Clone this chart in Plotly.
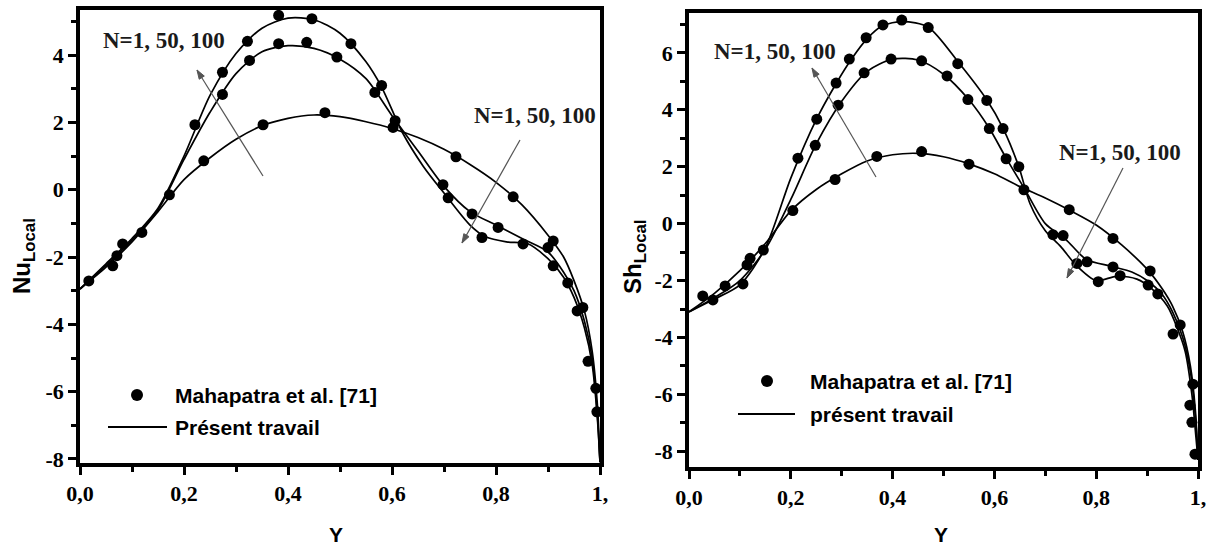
import math
import plotly.graph_objects as go

W, H = 1210, 548

# ---------------- data: left panel (Nu_Local) ----------------
nu_x_n1 = [0, 0.05, 0.1, 0.15, 0.2, 0.25, 0.3, 0.35, 0.4, 0.45, 0.5, 0.55, 0.6, 0.65, 0.7, 0.75, 0.8, 0.85, 0.9, 0.93, 0.95, 0.97, 0.985, 0.995, 1.0]
nu_y_n1 = [-2.95, -2.3, -1.55, -0.65, 0.3, 0.95, 1.5, 1.9, 2.12, 2.22, 2.17, 2.02, 1.82, 1.55, 1.2, 0.75, 0.22, -0.45, -1.35, -2.0, -2.7, -3.6, -4.8, -6.4, -8.1]

nu_x_n50 = [0, 0.05, 0.1, 0.15, 0.2, 0.25, 0.3, 0.35, 0.4, 0.45, 0.5, 0.55, 0.6, 0.65, 0.7, 0.75, 0.8, 0.85, 0.9, 0.93, 0.95, 0.97, 0.985, 0.995, 1.0]
nu_y_n50 = [-2.95, -2.25, -1.5, -0.6, 0.9, 2.3, 3.45, 4.1, 4.28, 4.2, 3.88, 3.3, 2.2, 1.15, 0.1, -0.65, -1.05, -1.45, -1.85, -2.45, -3.0, -3.9, -5.0, -6.7, -8.1]

nu_x_n100 = [0, 0.05, 0.1, 0.15, 0.2, 0.25, 0.3, 0.35, 0.4, 0.45, 0.5, 0.55, 0.58, 0.62, 0.66, 0.7, 0.75, 0.78, 0.82, 0.86, 0.9, 0.93, 0.95, 0.97, 0.985, 0.995, 1.0]
nu_y_n100 = [-2.95, -2.2, -1.45, -0.55, 1.0, 2.8, 4.05, 4.8, 5.1, 5.05, 4.65, 3.8, 3.05, 1.7, 0.7, -0.1, -1.05, -1.4, -1.55, -1.6, -2.05, -2.6, -3.2, -4.1, -5.2, -6.8, -8.1]

nu_dx_n1 = [0.017, 0.119, 0.172, 0.238, 0.352, 0.471, 0.602, 0.723, 0.833, 0.91, 0.956, 0.992]
nu_dy_n1 = [-2.71, -1.27, -0.15, 0.86, 1.93, 2.29, 1.85, 0.98, -0.21, -1.52, -3.6, -5.9]
nu_dx_n50 = [0.063, 0.071, 0.274, 0.326, 0.382, 0.436, 0.494, 0.567, 0.606, 0.698, 0.754, 0.804, 0.90, 0.938, 0.967, 0.994]
nu_dy_n50 = [-2.26, -1.96, 2.83, 3.84, 4.34, 4.38, 3.94, 2.89, 2.05, 0.15, -0.72, -1.12, -1.72, -2.77, -3.5, -6.6]
nu_dx_n100 = [0.082, 0.221, 0.274, 0.322, 0.382, 0.446, 0.521, 0.58, 0.708, 0.773, 0.852, 0.91, 0.977]
nu_dy_n100 = [-1.61, 1.93, 3.49, 4.41, 5.18, 5.08, 4.34, 3.1, -0.24, -1.42, -1.61, -2.26, -5.1]

# ---------------- data: right panel (Sh_Local) ----------------
sh_x_n1 = [0, 0.05, 0.1, 0.15, 0.2, 0.25, 0.3, 0.35, 0.4, 0.45, 0.5, 0.55, 0.6, 0.65, 0.7, 0.75, 0.8, 0.85, 0.9, 0.93, 0.95, 0.97, 0.985, 0.995, 1.0]
sh_y_n1 = [-3.1, -2.45, -1.65, -0.7, 0.45, 1.2, 1.75, 2.2, 2.42, 2.47, 2.35, 2.1, 1.75, 1.3, 0.9, 0.45, -0.05, -0.75, -1.6, -2.3, -2.9, -3.8, -5.0, -6.6, -8.3]

sh_x_n50 = [0, 0.05, 0.1, 0.15, 0.2, 0.25, 0.3, 0.35, 0.4, 0.45, 0.5, 0.55, 0.59, 0.62, 0.66, 0.7, 0.74, 0.78, 0.83, 0.87, 0.9, 0.93, 0.95, 0.97, 0.985, 0.995, 1.0]
sh_y_n50 = [-3.1, -2.6, -2.0, -0.9, 0.85, 2.8, 4.3, 5.35, 5.78, 5.75, 5.25, 4.35, 3.35, 2.4, 1.2, 0.0, -0.55, -1.25, -1.5, -1.7, -2.0, -2.5, -3.1, -4.0, -5.2, -6.8, -8.3]

sh_x_n100 = [0, 0.05, 0.1, 0.15, 0.2, 0.25, 0.29, 0.32, 0.35, 0.38, 0.42, 0.47, 0.53, 0.585, 0.617, 0.648, 0.67, 0.7, 0.73, 0.76, 0.8, 0.84, 0.88, 0.91, 0.94, 0.96, 0.975, 0.988, 0.996, 1.0]
sh_y_n100 = [-3.1, -2.65, -2.15, -0.85, 1.6, 3.65, 4.95, 5.8, 6.5, 6.95, 7.1, 6.9, 5.65, 4.35, 3.35, 2.0, 0.7, -0.25, -0.8, -1.45, -2.0, -1.85, -1.95, -2.3, -2.9, -3.7, -4.5, -6.0, -7.5, -8.3]

sh_dx_n1 = [0.027, 0.114, 0.146, 0.204, 0.287, 0.369, 0.457, 0.55, 0.658, 0.747, 0.833, 0.906, 0.965, 0.99]
sh_dy_n1 = [-2.54, -1.45, -0.93, 0.46, 1.55, 2.36, 2.53, 2.09, 1.19, 0.49, -0.52, -1.66, -3.56, -5.64]
sh_dx_n50 = [0.047, 0.071, 0.12, 0.248, 0.293, 0.344, 0.397, 0.457, 0.507, 0.548, 0.59, 0.623, 0.735, 0.782, 0.833, 0.902, 0.951, 0.984]
sh_dy_n50 = [-2.68, -2.19, -1.22, 2.75, 4.16, 5.3, 5.78, 5.72, 5.19, 4.36, 3.34, 2.28, -0.42, -1.34, -1.52, -2.16, -3.88, -6.38]
sh_dx_n100 = [0.106, 0.214, 0.251, 0.289, 0.315, 0.348, 0.381, 0.418, 0.47, 0.528, 0.585, 0.617, 0.648, 0.715, 0.762, 0.804, 0.847, 0.921, 0.988, 0.994]
sh_dy_n100 = [-2.12, 2.3, 3.67, 4.94, 5.78, 6.53, 6.98, 7.15, 6.89, 5.62, 4.33, 3.34, 2.0, -0.39, -1.4, -2.04, -1.83, -2.47, -6.98, -8.1]

# ---------------- ticks / labels (last label is cropped to "1," in the source) ----------------
x_ticks = [0, 0.2, 0.4, 0.6, 0.8, 1.0]
x_ticklabels = ["0,0", "0,2", "0,4", "0,6", "0,8", "1,"]
x_minor = [0.1, 0.3, 0.5, 0.7, 0.9]
nu_ticks = [-8, -6, -4, -2, 0, 2, 4]
nu_ticklabels = ["-8", "-6", "-4", "-2", "0", "2", "4"]
nu_minor = [-7, -5, -3, -1, 1, 3, 5]
sh_ticks = [-8, -6, -4, -2, 0, 2, 4, 6]
sh_ticklabels = ["-8", "-6", "-4", "-2", "0", "2", "4", "6"]
sh_minor = [-7, -5, -3, -1, 1, 3, 5, 7]

legend_points = "Mahapatra et al. [71]"
legend_line_left = "Présent travail"
legend_line_right = "présent travail"
n_label = "N=1, 50, 100"


def px(x):
    return x / W


def py(y):
    return 1 - y / H


fig = go.Figure()

LINE = dict(color="black", width=1.7)
MARK = dict(color="black", size=11)

for xs, ys in [(nu_x_n1, nu_y_n1), (nu_x_n50, nu_y_n50), (nu_x_n100, nu_y_n100)]:
    fig.add_trace(go.Scatter(x=xs, y=ys, mode="lines", line=dict(shape="spline", smoothing=0.8, **LINE),
                             xaxis="x", yaxis="y", showlegend=False, name=legend_line_left))
for xs, ys in [(nu_dx_n1, nu_dy_n1), (nu_dx_n50, nu_dy_n50), (nu_dx_n100, nu_dy_n100)]:
    fig.add_trace(go.Scatter(x=xs, y=ys, mode="markers", marker=MARK,
                             xaxis="x", yaxis="y", showlegend=False, name=legend_points))
for xs, ys in [(sh_x_n1, sh_y_n1), (sh_x_n50, sh_y_n50), (sh_x_n100, sh_y_n100)]:
    fig.add_trace(go.Scatter(x=xs, y=ys, mode="lines", line=dict(shape="spline", smoothing=0.8, **LINE),
                             xaxis="x2", yaxis="y2", showlegend=False, name=legend_line_right))
for xs, ys in [(sh_dx_n1, sh_dy_n1), (sh_dx_n50, sh_dy_n50), (sh_dx_n100, sh_dy_n100)]:
    fig.add_trace(go.Scatter(x=xs, y=ys, mode="markers", marker=MARK,
                             xaxis="x2", yaxis="y2", showlegend=False, name=legend_points))

TICKFONT = dict(family="Liberation Serif", size=22, color="black", weight="bold")


def xaxis_style(domain):
    return dict(domain=domain, range=[0, 1.0], tickmode="array", tickvals=x_ticks, ticktext=x_ticklabels,
                ticks="outside", ticklen=8, tickwidth=3, tickcolor="black", automargin=False,
                ticklabeloverflow="allow",
                showline=True, linewidth=3.5, linecolor="black", mirror=True,
                showgrid=False, zeroline=False, tickfont=TICKFONT,
                minor=dict(tickvals=x_minor, ticks="outside", ticklen=5, tickwidth=3, tickcolor="black"))


def yaxis_style(domain, rng, tv, tt, mv, anchor):
    return dict(domain=domain, range=rng, tickmode="array", tickvals=tv, ticktext=tt, anchor=anchor,
                ticks="outside", ticklen=8, tickwidth=3, tickcolor="black", automargin=False,
                showline=True, linewidth=3.5, linecolor="black", mirror=True,
                showgrid=False, zeroline=False, tickfont=TICKFONT,
                minor=dict(tickvals=mv, ticks="outside", ticklen=5, tickwidth=3, tickcolor="black"))


xd1 = [px(80), px(600)]
yd1 = [py(463), py(10)]
xd2 = [px(689), px(1198)]
yd2 = [py(467), py(13)]

fig.update_layout(
    width=W, height=H, margin=dict(l=0, r=0, t=0, b=0, autoexpand=False),
    paper_bgcolor="white", plot_bgcolor="white", showlegend=False,
    xaxis=dict(anchor="y", **xaxis_style(xd1)),
    yaxis=yaxis_style(yd1, [-8.12, 5.34], nu_ticks, nu_ticklabels, nu_minor, "x"),
    xaxis2=dict(anchor="y2", **xaxis_style(xd2)),
    yaxis2=yaxis_style(yd2, [-8.55, 7.4], sh_ticks, sh_ticklabels, sh_minor, "x2"),
)

TITLE = dict(family="Liberation Sans", size=24, color="black", weight="bold")
SANS = dict(family="Liberation Sans", size=21, color="black", weight="bold")
SERIF = dict(family="Liberation Serif", size=23, color="#1a1a1a", weight="bold")

ann = []
# axis titles
ann.append(dict(x=px(23), y=py(256), xref="paper", yref="paper", text="Nu<sub>Local</sub>", textangle=-90,
                showarrow=False, font=TITLE, xanchor="center", yanchor="middle"))
ann.append(dict(x=px(634), y=py(257), xref="paper", yref="paper", text="Sh<sub>Local</sub>", textangle=-90,
                showarrow=False, font=TITLE, xanchor="center", yanchor="middle"))
ann.append(dict(x=px(336), y=py(534), xref="paper", yref="paper", text="Y", showarrow=False, font=SANS,
                xanchor="center", yanchor="middle"))
ann.append(dict(x=px(941), y=py(534), xref="paper", yref="paper", text="Y", showarrow=False, font=SANS,
                xanchor="center", yanchor="middle"))
# N labels
for cx, cy in [(164, 41), (535, 116), (775, 51), (1120, 152)]:
    ann.append(dict(x=px(cx), y=py(cy), xref="paper", yref="paper", text=n_label, showarrow=False,
                    font=SERIF, xanchor="center", yanchor="middle"))
# legend texts
for (tx, ty, t) in [(173, 395, legend_points), (173, 427, legend_line_left),
                    (808, 381, legend_points), (808, 414, legend_line_right)]:
    ann.append(dict(x=px(tx), y=py(ty), xref="paper", yref="paper", text=t, showarrow=False, font=SANS,
                    xanchor="left", yanchor="middle"))
fig.update_layout(annotations=ann)

shapes = []
# arrows (head, tail) drawn as line + small filled head
ARROW_COLOR = "#555555"
for (hx, hy), (tx, ty) in [((197, 70), (263, 176)), ((462, 243), (520, 140)),
                           ((812, 68), (876, 177)), ((1067, 278), (1123, 168))]:
    shapes.append(dict(type="line", xref="paper", yref="paper", x0=px(tx), y0=py(ty), x1=px(hx), y1=py(hy),
                       line=dict(color=ARROW_COLOR, width=1.2)))
    L = math.hypot(hx - tx, hy - ty)
    ux, uy = (hx - tx) / L, (hy - ty) / L
    bx, by = hx - 9 * ux, hy - 9 * uy
    nx, ny = -uy, ux
    p1 = (bx + 3 * nx, by + 3 * ny)
    p2 = (bx - 3 * nx, by - 3 * ny)
    path = "M {:.5f} {:.5f} L {:.5f} {:.5f} L {:.5f} {:.5f} Z".format(
        px(hx), py(hy), px(p1[0]), py(p1[1]), px(p2[0]), py(p2[1]))
    shapes.append(dict(type="path", xref="paper", yref="paper", path=path, fillcolor=ARROW_COLOR,
                       line=dict(color=ARROW_COLOR, width=1)))
# legend symbols
for (cx, cy) in [(137, 395), (767, 381)]:
    shapes.append(dict(type="circle", xref="paper", yref="paper", x0=px(cx - 6), x1=px(cx + 6),
                       y0=py(cy + 6), y1=py(cy - 6), fillcolor="black", line=dict(color="black", width=0)))
for (x0, x1, yy) in [(108, 167, 427), (738, 795, 414)]:
    shapes.append(dict(type="line", xref="paper", yref="paper", x0=px(x0), x1=px(x1), y0=py(yy), y1=py(yy),
                       line=dict(color="black", width=2)))
fig.update_layout(shapes=shapes)

fig.write_html("out.html")
